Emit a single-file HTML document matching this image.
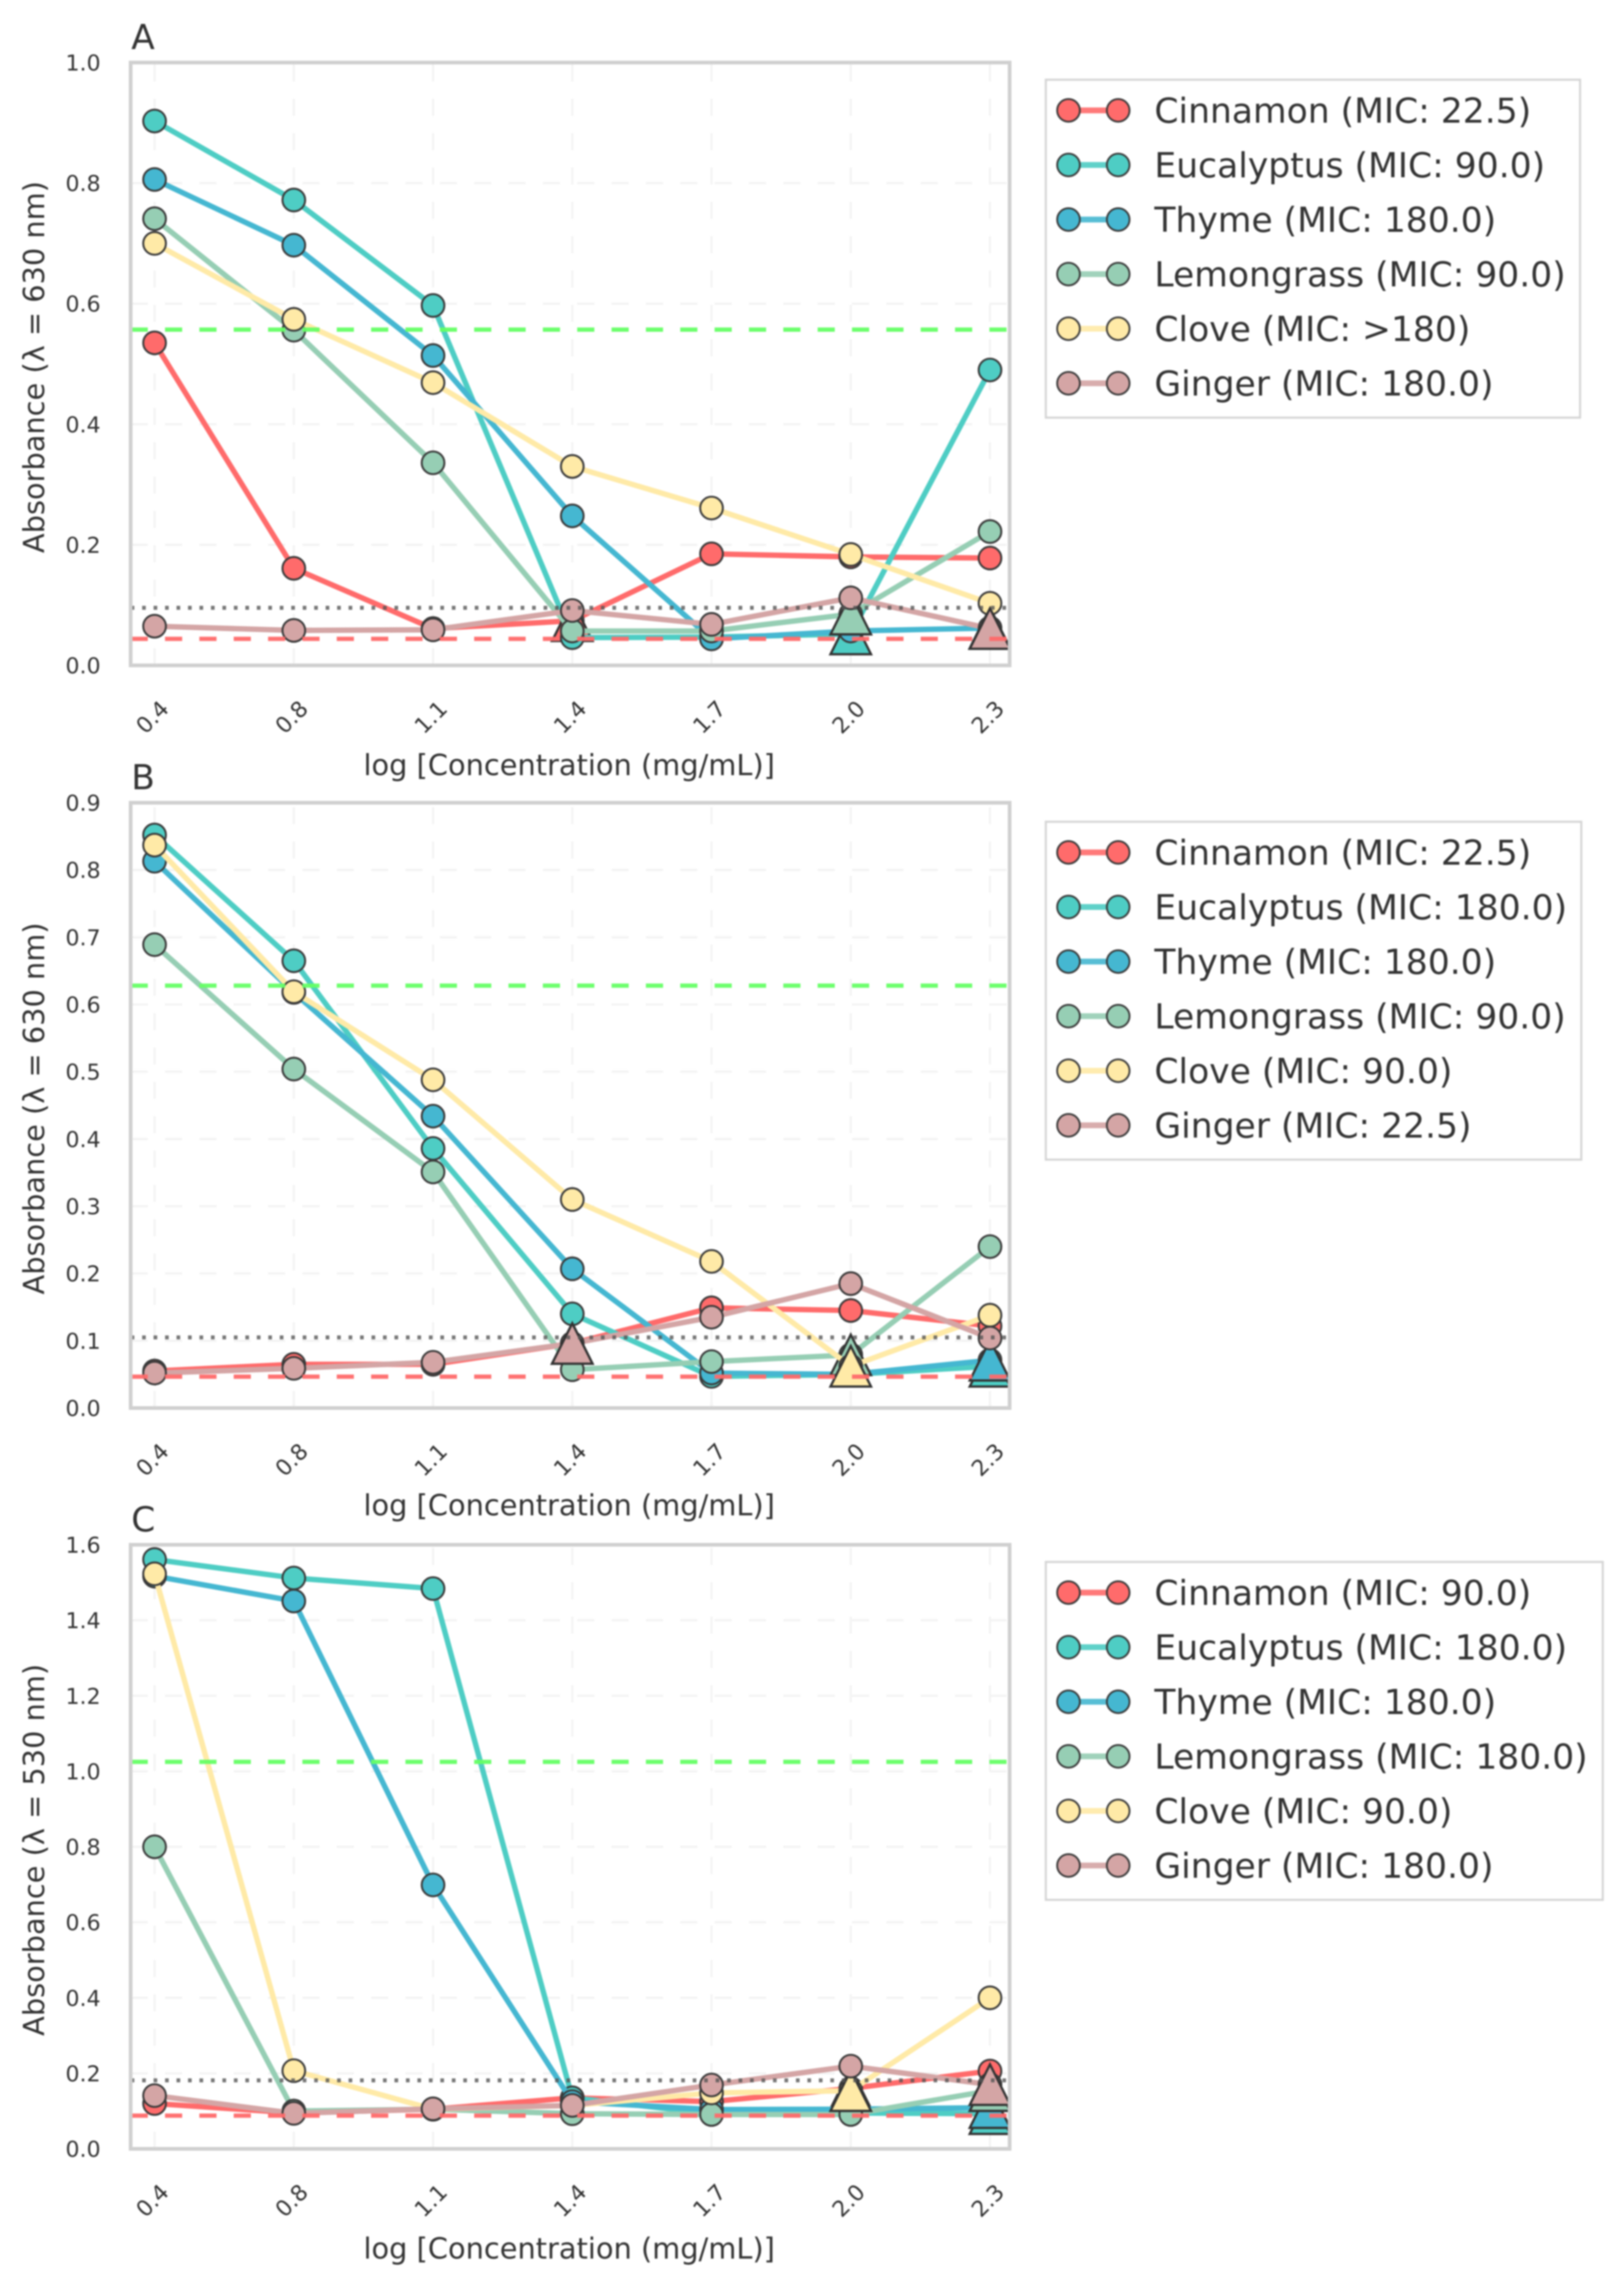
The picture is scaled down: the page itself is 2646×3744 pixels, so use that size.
<!DOCTYPE html>
<html lang="en">
<head>
<meta charset="utf-8">
<title>Absorbance vs log concentration</title>
<style>
html,body{margin:0;padding:0;background:#fff;}
#chart-root{display:block;width:2646px;height:3744px;filter:blur(1.4px);}
text{font-family:"DejaVu Sans","Liberation Sans",sans-serif;fill:#333;}
</style>
</head>
<body>
<svg id="chart-root" xmlns="http://www.w3.org/2000/svg" width="2646" height="3744" viewBox="0 0 2646 3744"></svg>
<script>
// ---- Shared categories ----
const xTickLabels = ['0.4', '0.8', '1.1', '1.4', '1.7', '2.0', '2.3'];
const concentrations = [2.8125, 5.625, 11.25, 22.5, 45, 90, 180];
const seriesNames = ['Cinnamon', 'Eucalyptus', 'Thyme', 'Lemongrass', 'Clove', 'Ginger'];

// ---- Panel A values ----
const cinnamonA = [0.535, 0.161, 0.061, 0.074, 0.185, 0.180, 0.178];
const eucalyptusA = [0.903, 0.772, 0.597, 0.046, 0.047, 0.052, 0.490];
const thymeA = [0.806, 0.697, 0.514, 0.248, 0.044, 0.057, 0.062];
const lemongrassA = [0.741, 0.556, 0.336, 0.057, 0.057, 0.085, 0.222];
const cloveA = [0.700, 0.574, 0.469, 0.330, 0.261, 0.184, 0.103];
const gingerA = [0.065, 0.058, 0.059, 0.091, 0.068, 0.112, 0.061];
const micA = [22.5, 90, 180, 90, null, 180];
const micLabelsA = ['22.5', '90.0', '180.0', '90.0', '>180', '180.0'];
const yTicksA = [0, 0.2, 0.4, 0.6, 0.8, 1.0];
const yMaxA = 1.0;
const thresholdsA = [0.557, 0.0955, 0.044];

// ---- Panel B values ----
const cinnamonB = [0.055, 0.065, 0.065, 0.096, 0.149, 0.145, 0.122];
const eucalyptusB = [0.852, 0.665, 0.386, 0.140, 0.047, 0.050, 0.062];
const thymeB = [0.813, 0.618, 0.434, 0.207, 0.052, 0.050, 0.071];
const lemongrassB = [0.689, 0.504, 0.351, 0.057, 0.069, 0.079, 0.240];
const cloveB = [0.837, 0.619, 0.488, 0.310, 0.218, 0.062, 0.138];
const gingerB = [0.052, 0.059, 0.068, 0.096, 0.135, 0.185, 0.104];
const micB = [22.5, 180, 180, 90, 90, 22.5];
const micLabelsB = ['22.5', '180.0', '180.0', '90.0', '90.0', '22.5'];
const yTicksB = [0, 0.1, 0.2, 0.3, 0.4, 0.5, 0.6, 0.7, 0.8, 0.9];
const yMaxB = 0.9;
const thresholdsB = [0.628, 0.105, 0.0466];

// ---- Panel C values ----
const cinnamonC = [0.120, 0.095, 0.105, 0.135, 0.125, 0.160, 0.206];
const eucalyptusC = [1.561, 1.512, 1.484, 0.135, 0.093, 0.095, 0.093];
const thymeC = [1.517, 1.451, 0.699, 0.125, 0.104, 0.105, 0.109];
const lemongrassC = [0.800, 0.100, 0.105, 0.093, 0.091, 0.091, 0.154];
const cloveC = [1.523, 0.207, 0.105, 0.115, 0.148, 0.154, 0.400];
const gingerC = [0.141, 0.094, 0.106, 0.115, 0.169, 0.219, 0.170];
const micC = [90, 180, 180, 180, 90, 180];
const micLabelsC = ['90.0', '180.0', '180.0', '180.0', '90.0', '180.0'];
const yTicksC = [0, 0.2, 0.4, 0.6, 0.8, 1.0, 1.2, 1.4, 1.6];
const yMaxC = 1.6;
const thresholdsC = [1.025, 0.1814, 0.088];

// ---- Styles (separate from data) ----
const COLORS = ['#FF6B6B', '#4ECDC4', '#45B7D1', '#96CEB4', '#FFEAA7', '#D4A5A5'];
const THRESHOLD_STYLE = [
  {c: '#66ff66', d: '28 28', w: 7, n: 'growth-control-line'},
  {c: '#555555', d: '6 12.7', w: 6.5, n: 'mic-cutoff-line'},
  {c: '#ff6b6b', d: '28 28', w: 7, n: 'sterility-control-line'}
];
const LEFT = 213, RIGHT = 1646, X0 = 252, XSTEP = 227;

const PANELS = [
  {id: 'a', title: 'A', ylabel: 'Absorbance (\u03BB = 630 nm)', top: 102, bottom: 1085, yMax: yMaxA, yTicks: yTicksA, xlabelGap: 179,
   series: [cinnamonA, eucalyptusA, thymeA, lemongrassA, cloveA, gingerA], mic: micA, micLabels: micLabelsA, thresholds: thresholdsA,
   legend: {x: 1705, y: 130, w: 871, h: 551}},
  {id: 'b', title: 'B', ylabel: 'Absorbance (\u03BB = 630 nm)', top: 1309, bottom: 2296, yMax: yMaxB, yTicks: yTicksB, xlabelGap: 175,
   series: [cinnamonB, eucalyptusB, thymeB, lemongrassB, cloveB, gingerB], mic: micB, micLabels: micLabelsB, thresholds: thresholdsB,
   legend: {x: 1705, y: 1340, w: 873, h: 551}},
  {id: 'c', title: 'C', ylabel: 'Absorbance (\u03BB = 530 nm)', top: 2519, bottom: 3504, yMax: yMaxC, yTicks: yTicksC, xlabelGap: 179,
   series: [cinnamonC, eucalyptusC, thymeC, lemongrassC, cloveC, gingerC], mic: micC, micLabels: micLabelsC, thresholds: thresholdsC,
   legend: {x: 1705, y: 2547, w: 908, h: 551}}
];

const NS = 'http://www.w3.org/2000/svg';
const root = document.getElementById('chart-root');

function mk(tag, attrs, parent) {
  const el = document.createElementNS(NS, tag);
  for (const k in attrs) el.setAttribute(k, attrs[k]);
  parent.appendChild(el);
  return el;
}
function xScale(i) { return X0 + XSTEP * i; }
function yScale(panel, v) { return panel.bottom - (v / panel.yMax) * (panel.bottom - panel.top); }
function micIndex(mic) { return concentrations.indexOf(mic); }

const defs = mk('defs', {}, root);

PANELS.forEach(function (p) {
  const panelGroup = mk('g', {}, root);
  
  

  const clip = mk('clipPath', {id: 'clip-' + p.id}, defs);
  mk('rect', {x: LEFT, y: p.top, width: RIGHT - LEFT - 3, height: p.bottom - p.top}, clip);

  // Grid
  p.yTicks.forEach(function (t) {
    const g = mk('line', {x1: LEFT, x2: RIGHT, y1: yScale(p, t), y2: yScale(p, t), stroke: '#f3f3f3', 'stroke-width': 3.5, 'stroke-dasharray': '28 28'}, panelGroup);
    
    
  });
  xTickLabels.forEach(function (t, i) {
    const g = mk('line', {x1: xScale(i), x2: xScale(i), y1: p.bottom, y2: p.top, stroke: '#f3f3f3', 'stroke-width': 3.5, 'stroke-dasharray': '28 28'}, panelGroup);
    
    
  });

  // Series
  const plot = mk('g', {'clip-path': 'url(#clip-' + p.id + ')'}, panelGroup);
  
  

  p.series.forEach(function (vals, s) {
    const name = seriesNames[s].toLowerCase();
    const sg = mk('g', {}, plot);
    
    

    const pts = vals.map(function (v, i) { return xScale(i) + ',' + yScale(p, v); }).join(' ');
    const line = mk('polyline', {points: pts, fill: 'none', stroke: COLORS[s], 'stroke-width': 8.8, 'stroke-linejoin': 'round'}, sg);
    
    

    vals.forEach(function (v, i) {
      const c = mk('circle', {cx: xScale(i), cy: yScale(p, v), r: 18.5, fill: COLORS[s], stroke: '#3a3a3a', 'stroke-width': 3.2}, sg);
      
      
    });

    if (p.mic[s] !== null) {
      const mi = micIndex(p.mic[s]);
      const tx = xScale(mi), ty = yScale(p, vals[mi]), h = 33;
      const tri = mk('polygon', {points: tx + ',' + (ty - h) + ' ' + (tx - h) + ',' + (ty + h) + ' ' + (tx + h) + ',' + (ty + h), fill: COLORS[s], stroke: '#333', 'stroke-width': 3.8, 'stroke-linejoin': 'miter'}, sg);
      
      
    }
  });

  // Threshold lines
  p.thresholds.forEach(function (v, k) {
    const st = THRESHOLD_STYLE[k];
    const l = mk('line', {x1: LEFT, x2: RIGHT, y1: yScale(p, v), y2: yScale(p, v), stroke: st.c, 'stroke-width': st.w, 'stroke-dasharray': st.d, opacity: k === 1 ? 0.8 : 0.95}, plot);
    
    
  });

  // Frame
  const frame = mk('rect', {x: LEFT, y: p.top, width: RIGHT - LEFT, height: p.bottom - p.top, fill: 'none', stroke: '#d0d0d0', 'stroke-width': 6}, panelGroup);
  
  

  // Title
  const title = mk('text', {x: 214, y: p.top - 22, 'font-size': 56}, panelGroup);
  title.textContent = p.title;
  
  

  // Y ticks
  p.yTicks.forEach(function (t) {
    const tl = mk('text', {x: 164, y: yScale(p, t) + 13, 'font-size': 36, 'text-anchor': 'end'}, panelGroup);
    tl.textContent = t.toFixed(1);
    
    
  });

  // X ticks
  xTickLabels.forEach(function (t, i) {
    const cx = xScale(i) - 4, cy = p.bottom + 84;
    const tl = mk('text', {x: cx, y: cy + 13, 'font-size': 36, 'text-anchor': 'middle', transform: 'rotate(-45 ' + cx + ' ' + cy + ')'}, panelGroup);
    tl.textContent = t;
    
    
  });

  // Axis labels
  const xl = mk('text', {x: 928, y: p.bottom + p.xlabelGap, 'font-size': 47, 'text-anchor': 'middle'}, panelGroup);
  xl.textContent = 'log [Concentration (mg/mL)]';
  
  

  const yc = (p.top + p.bottom) / 2 + 5;
  const yl = mk('text', {x: 72, y: yc, 'font-size': 47, 'text-anchor': 'middle', transform: 'rotate(-90 72 ' + yc + ')'}, panelGroup);
  yl.textContent = p.ylabel;
  
  

  // Legend
  const lg = mk('g', {}, panelGroup);
  
  
  const box = mk('rect', {x: p.legend.x, y: p.legend.y, width: p.legend.w, height: p.legend.h, fill: '#fff', stroke: '#d6d6d6', 'stroke-width': 3.5}, lg);
  
  

  seriesNames.forEach(function (nm, s) {
    const ry = p.legend.y + 50 + 89 * s;
    const entry = mk('g', {}, lg);
    
    
    mk('line', {x1: 1742, x2: 1823, y1: ry, y2: ry, stroke: COLORS[s], 'stroke-width': 9.5, opacity: 0.9}, entry);
    mk('circle', {cx: 1742, cy: ry, r: 18.5, fill: COLORS[s], stroke: '#3a3a3a', 'stroke-width': 3}, entry);
    mk('circle', {cx: 1823, cy: ry, r: 18.5, fill: COLORS[s], stroke: '#3a3a3a', 'stroke-width': 3}, entry);
    const tx = mk('text', {x: 1882, y: ry + 20, 'font-size': 56.3}, entry);
    tx.textContent = nm + ' (MIC: ' + p.micLabels[s] + ')';
  });
});
</script>
</body>
</html>
